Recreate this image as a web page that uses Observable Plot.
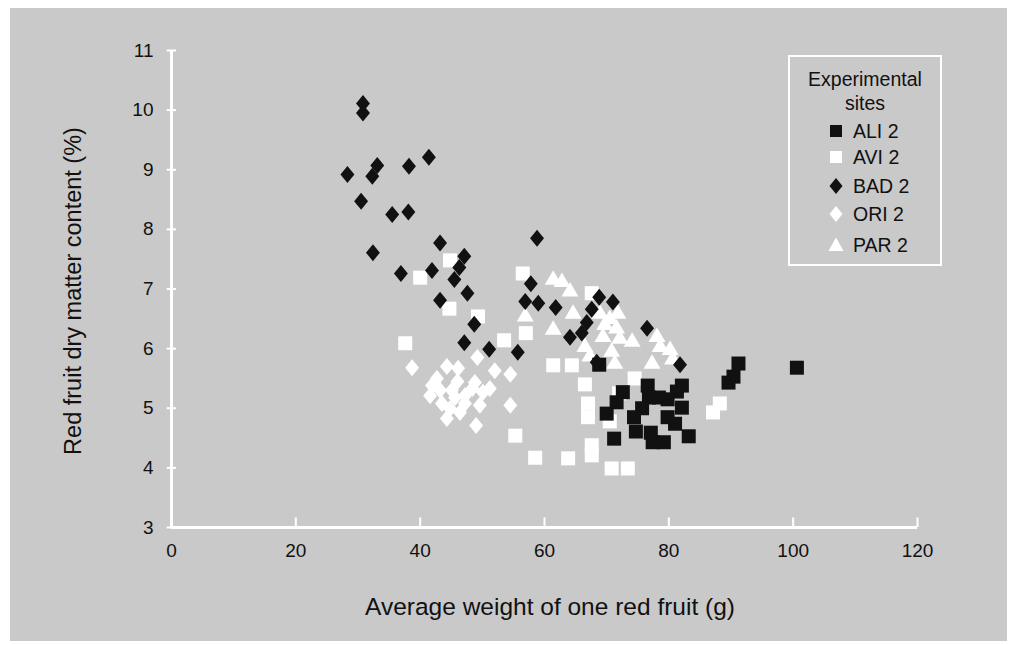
<!DOCTYPE html>
<html><head><meta charset="utf-8">
<script src="https://cdn.jsdelivr.net/npm/d3@7"></script>
<script src="https://cdn.jsdelivr.net/npm/@observablehq/plot@0.6"></script>
<style>
body{margin:0;background:#fff;}
#wrap{position:relative;width:1013px;height:645px;overflow:hidden;background:#fff;}
#bg{position:absolute;left:10px;top:8px;width:997px;height:633px;background:#c9c9c9;}
#chart{position:absolute;left:0;top:0;}
.t{position:absolute;font-family:"Liberation Sans",Arial,sans-serif;color:#111;white-space:nowrap;}
#legend{position:absolute;left:788px;top:55px;width:150px;height:207px;border:2.5px solid #fff;}
.li{position:absolute;left:46px;font-size:19.5px;font-family:"Liberation Sans",Arial,sans-serif;color:#111;white-space:nowrap;}
.li svg{position:absolute;left:0;top:0;overflow:visible;}
.li span{position:absolute;left:17px;top:-11px;white-space:nowrap;}
</style></head>
<body>
<div id="wrap">
  <div id="bg"></div>
  <div id="chart"></div>
  <div class="t" id="ytitle" style="font-size:23.5px;left:73px;top:291px;transform:translate(-50%,-50%) rotate(-90deg);">Red fruit dry matter content (%)</div>
  <div class="t" id="xtitle" style="font-size:24.5px;left:550px;top:607px;transform:translate(-50%,-50%);">Average weight of one red fruit (g)</div>
  <div id="legend"></div>
</div>
<script>
// ---- data ----
const xTicks = [0, 20, 40, 60, 80, 100, 120];
const yTicks = [3, 4, 5, 6, 7, 8, 9, 10, 11];
const siteNames = ["ALI 2", "AVI 2", "BAD 2", "ORI 2", "PAR 2"];
const legendTitle = ["Experimental", "sites"];

const ali = [[68.8,5.73],[91.2,5.75],[90.4,5.53],[89.6,5.43],[100.6,5.68],[72.6,5.27],[71.6,5.10],[70.0,4.91],
  [76.6,5.38],[76.8,5.18],[78.4,5.18],[79.8,5.15],[82.1,5.38],[81.3,5.28],[75.7,5.00],[74.4,4.85],[82.1,5.01],
  [79.8,4.85],[81.0,4.74],[71.2,4.49],[74.7,4.61],[77.1,4.59],[77.4,4.43],[79.2,4.43],[83.2,4.53]];
const avi = [[37.6,6.09],[40.0,7.19],[44.8,7.48],[44.7,6.67],[49.3,6.54],[53.5,6.14],[57.0,6.26],[56.5,7.26],
  [61.4,5.72],[64.4,5.72],[66.5,5.40],[67.0,5.08],[67.0,4.85],[67.6,4.38],[67.6,4.21],[55.3,4.54],[58.5,4.17],
  [63.8,4.16],[70.8,3.99],[73.4,3.99],[74.5,5.50],[67.6,6.93],[88.2,5.08],[87.1,4.93],[72.0,5.25],[70.5,4.78]];
const bad = [[30.8,10.11],[30.8,9.95],[28.3,8.92],[33.1,9.07],[32.3,8.89],[38.2,9.06],[41.4,9.21],[30.5,8.47],
  [35.5,8.25],[38.1,8.29],[32.4,7.61],[36.9,7.26],[43.2,7.77],[41.9,7.31],[47.1,7.55],[46.3,7.36],[45.5,7.16],
  [43.2,6.81],[47.6,6.93],[48.7,6.41],[47.1,6.10],[51.1,5.99],[55.7,5.94],[58.8,7.85],[57.8,7.09],[56.9,6.79],
  [59.0,6.76],[61.8,6.69],[68.8,6.86],[71.0,6.78],[67.6,6.66],[66.8,6.44],[66.0,6.26],[64.1,6.19],[68.4,5.77],
  [76.5,6.34],[81.8,5.73]];
const ori = [[38.7,5.68],[44.3,5.70],[46.1,5.67],[49.2,5.85],[52.0,5.63],[54.5,5.57],[41.9,5.38],[43.5,5.08],
  [45.6,5.18],[48.4,5.33],[50.1,5.27],[46.4,4.93],[49.6,5.05],[54.5,5.05],[49.0,4.71],[44.8,4.99],[41.6,5.21],
  [47.2,5.21],[43.2,5.30],[42.7,5.50],[45.1,5.30],[47.2,5.08],[44.3,4.83],[51.2,5.33],[48.8,5.43],[46.0,5.45]];
const par = [[61.4,7.18],[62.8,7.14],[64.1,6.98],[56.9,6.56],[61.4,6.34],[64.6,6.61],[68.9,6.61],[70.5,6.52],
  [71.8,6.61],[69.7,6.42],[71.6,6.36],[69.4,6.22],[72.1,6.19],[74.1,6.14],[66.5,6.05],[70.8,5.97],[67.3,5.89],
  [78.1,6.22],[78.6,6.05],[80.2,6.00],[77.3,5.77],[80.6,5.84],[71.3,5.77]];

// ---- symbols ----
const rOf = size => Math.sqrt(size / Math.PI);
const squareSym = {draw(c, s){const r = rOf(s); c.moveTo(-r,-r); c.lineTo(r,-r); c.lineTo(r,r); c.lineTo(-r,r); c.closePath();}};
const diamondSym = {draw(c, s){const r = rOf(s), w = r*0.82; c.moveTo(0,-r); c.lineTo(w,0); c.lineTo(0,r); c.lineTo(-w,0); c.closePath();}};
const triSym = {draw(c, s){const r = rOf(s); c.moveTo(0,-r*0.95); c.lineTo(r,r*0.75); c.lineTo(-r,r*0.75); c.closePath();}};

const pt = {x: d => d[0], y: d => d[1]};
const ink = "#111";

const chart = Plot.plot({
  width: 1013, height: 645,
  marginLeft: 171, marginRight: 96, marginTop: 50, marginBottom: 118,
  style: {background: "transparent", fontFamily: "Liberation Sans, Arial, sans-serif", fontSize: "19px", color: ink},
  x: {domain: [0, 120], ticks: xTicks, tickSize: 0, tickPadding: 16, label: null},
  y: {domain: [3, 11], ticks: yTicks, tickSize: 0, tickPadding: 18, label: null},
  marks: [
    Plot.ruleY([3], {stroke: "white", strokeWidth: 3}),
    Plot.ruleX([0], {stroke: "white", strokeWidth: 3}),
    Plot.ruleY(yTicks, {x1: -0.7, x2: 0.8, stroke: "white", strokeWidth: 2}),
    Plot.ruleX(xTicks, {y1: 3, y2: 3.16, stroke: "white", strokeWidth: 2}),
    Plot.dot(avi, {...pt, symbol: squareSym, r: 7, fill: "white", stroke: null}),
    Plot.dot(ori, {...pt, symbol: diamondSym, r: 8.5, fill: "white", stroke: null}),
    Plot.dot(par, {...pt, symbol: triSym, r: 8.5, fill: "white", stroke: null}),
    Plot.dot(ali, {...pt, symbol: squareSym, r: 7, fill: ink, stroke: null}),
    Plot.dot(bad, {...pt, symbol: diamondSym, r: 8.5, fill: ink, stroke: null})
  ]
});
document.getElementById("chart").appendChild(chart);

// ---- legend ----
const leg = document.getElementById("legend");
legendTitle.forEach((s, i) => {
  const d = document.createElement("div");
  d.className = "t";
  d.style.cssText = `font-size:19.5px;left:50%;top:${11 + i*24}px;transform:translateX(-50%);`;
  d.textContent = s;
  leg.appendChild(d);
});
const legShapes = [
  {fill: ink, path: "M-6,-6H6V6H-6Z"},
  {fill: "white", path: "M-6,-6H6V6H-6Z"},
  {fill: ink, path: "M0,-8L6.5,0L0,8L-6.5,0Z"},
  {fill: "white", path: "M0,-8L6.5,0L0,8L-6.5,0Z"},
  {fill: "white", path: "M0,-7.5L7.5,6L-7.5,6Z"}
];
const legY = [74, 100, 129, 157, 188];
siteNames.forEach((name, i) => {
  const d = document.createElement("div");
  d.className = "li";
  d.style.top = legY[i] + "px";
  d.innerHTML = `<svg width="1" height="1"><path d="${legShapes[i].path}" fill="${legShapes[i].fill}"/></svg><span>${name}</span>`;
  leg.appendChild(d);
});
</script>
</body></html>
